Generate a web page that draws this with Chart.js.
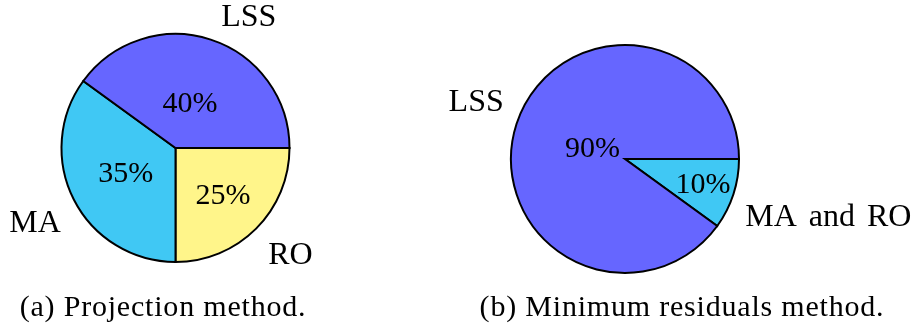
<!DOCTYPE html>
<html>
<head>
<meta charset="utf-8">
<script src="https://cdn.jsdelivr.net/npm/chart.js@4.4.0/dist/chart.umd.min.js"></script>
<style>
  html, body { margin: 0; padding: 0; background: #fff; }
  body { width: 917px; height: 329px; position: relative; overflow: hidden; }
  canvas { position: absolute; top: 0; }
  #pieA { left: 0; }
  #pieB { left: 440px; }
  .caption {
    position: absolute; top: 289px; white-space: nowrap;
    font-family: "Liberation Serif", serif; font-size: 30px; letter-spacing: 0.8px;
    color: #000; transform: translateX(-50%);
  }
</style>
</head>
<body>
<canvas id="pieA" width="440" height="329"></canvas>
<canvas id="pieB" width="477" height="329"></canvas>
<div class="caption" style="left:163px">(a) Projection method.</div>
<div class="caption" style="left:682px">(b) Minimum residuals method.</div>

<script>
// slices listed clockwise starting at 3 o'clock
const categoriesA = ['RO', 'MA', 'LSS'];
const valuesA = [25, 35, 40];
const colorsA = ['#fff58a', '#40c8f4', '#6666ff'];

const categoriesB = ['MA and RO', 'LSS'];
const valuesB = [10, 90];
const colorsB = ['#40c8f4', '#6666ff'];

const INNER_FONT = '30px "Liberation Serif", serif';
const OUTER_FONT = '32px "Liberation Serif", serif';

// draws the percent inside each slice and the name outside
const pieLabels = {
    id: 'pieLabels',
    afterDatasetsDraw(chart, args, opts) {
        const ctx = chart.ctx;
        const meta = chart.getDatasetMeta(0);
        const values = chart.data.datasets[0].data;
        ctx.save();
        ctx.fillStyle = '#000';
        meta.data.forEach((arc, i) => {
            const p = arc.getProps(['x', 'y', 'startAngle', 'endAngle', 'outerRadius'], true);
            const mid = (p.startAngle + p.endAngle) / 2;
            const c = Math.cos(mid), s = Math.sin(mid);

            const f = opts.inner[i];
            ctx.font = INNER_FONT;
            ctx.wordSpacing = '0px';
            ctx.textAlign = 'center';
            ctx.textBaseline = 'middle';
            ctx.fillText(values[i] + '%', p.x + c * p.outerRadius * f, p.y + s * p.outerRadius * f + 1);

            // outer name
            const r = p.outerRadius * 1.1;
            const sh = opts.shift[i];
            ctx.font = OUTER_FONT;
            ctx.wordSpacing = '4px';
            ctx.textAlign = c > 0 ? 'left' : 'right';
            ctx.textBaseline = s > 0 ? 'top' : 'alphabetic';
            const dx = (c > 0 ? 3 : -3) + sh[0];
            const dy = (s > 0 ? 1 : -2) + sh[1];
            ctx.fillText(chart.data.labels[i], p.x + c * r + dx, p.y + s * r + dy);
        });
        ctx.restore();
    }
};

function makePie(id, labels, values, colors, padding, inner, shift) {
    return new Chart(document.getElementById(id), {
        type: 'pie',
        data: {
            labels: labels,
            datasets: [{
                data: values,
                backgroundColor: colors,
                borderColor: '#000',
                borderWidth: 2,
                borderJoinStyle: 'miter'
            }]
        },
        options: {
            responsive: false,
            animation: false,
            events: [],
            rotation: 90,
            radius: 114,
            layout: { padding: padding },
            plugins: {
                legend: { display: false },
                tooltip: { enabled: false },
                pieLabels: { inner: inner, shift: shift }
            }
        },
        plugins: [pieLabels]
    });
}

makePie('pieA', categoriesA, valuesA, colorsA, { left: 0, top: 0, right: 89, bottom: 33 },
    [0.59, 0.49, 0.41], [[1, 2], [0, 2], [4, -1]]);
makePie('pieB', categoriesB, valuesB, colorsB, { left: 0, top: 0, right: 107, bottom: 11 },
    [0.72, 0.30], [[-2, 3], [1, -7]]);
</script>
</body>
</html>
